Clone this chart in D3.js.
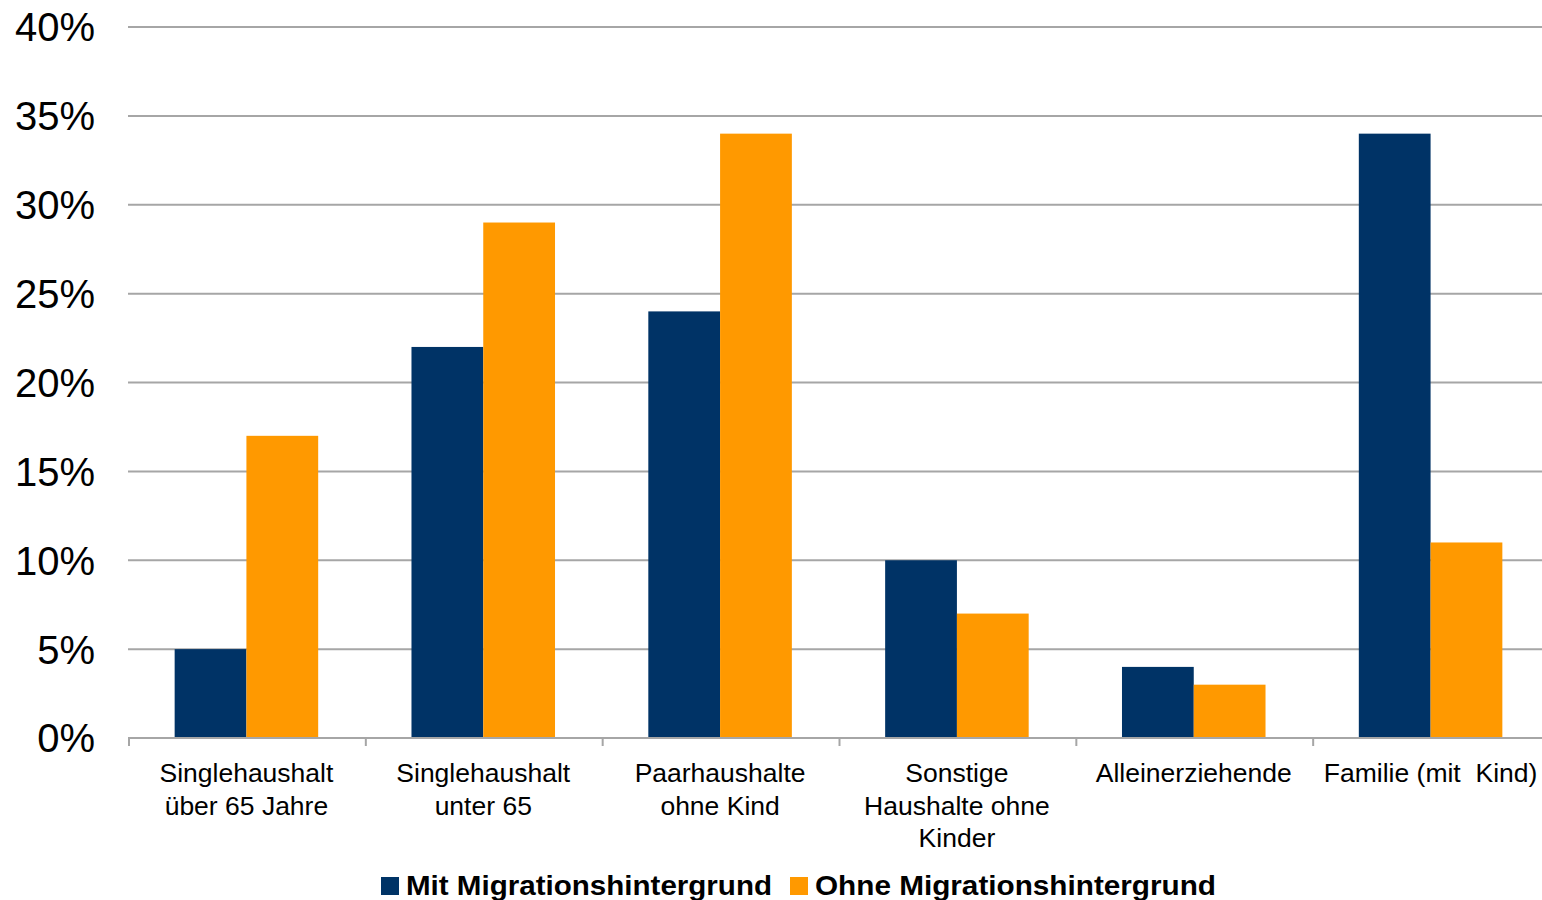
<!DOCTYPE html>
<html>
<head>
<meta charset="utf-8">
<script src="https://cdn.jsdelivr.net/npm/d3@7"></script>
<style>
  body { margin: 0; background: #fff; overflow: hidden; }
  text { font-family: "Liberation Sans", Arial, sans-serif; }
</style>
</head>
<body>
<div id="chart"></div>
<script>
// data
var categories = [
    ["Singlehaushalt", "über 65 Jahre"],
    ["Singlehaushalt", "unter 65"],
    ["Paarhaushalte", "ohne Kind"],
    ["Sonstige", "Haushalte ohne", "Kinder"],
    ["Alleinerziehende"],
    ["Familie (mit  Kind)"]
];
var seriesNames = ["Mit Migrationshintergrund", "Ohne Migrationshintergrund"];
var mitValues = [5, 22, 24, 10, 4, 34];
var ohneValues = [17, 29, 34, 7, 3, 11];
var yTicks = [0, 5, 10, 15, 20, 25, 30, 35, 40];

var colors = ["#003366", "#ff9900"];

var width = 1542, height = 900;
var margin = {top: 27, bottom: 162, left: 128};
// plot area runs a few px past the window on the right
var plotRight = 1549;

var svg = d3.select("#chart").append("svg")
    .attr("width", width)
    .attr("height", height);

var idx = d3.range(categories.length);

var x0 = d3.scaleBand()
    .domain(idx)
    .range([margin.left, plotRight])
    .padding(0);

var x1 = d3.scaleBand()
    .domain([0, 1])
    .range([0, x0.bandwidth()])
    .paddingInner(0)
    .paddingOuter(0.65);

var y = d3.scaleLinear()
    .domain([0, 40])
    .range([height - margin.bottom, margin.top]);

// gridlines
svg.append("g").selectAll("line").data(yTicks)
    .enter()
    .append("line")
    .attr("x1", margin.left)
    .attr("x2", plotRight)
    .attr("y1", function(d){ return y(d); })
    .attr("y2", function(d){ return y(d); })
    .attr("stroke", "#a6a6a6")
    .attr("stroke-width", 2);

// y labels
svg.append("g").selectAll("text").data(yTicks)
    .enter()
    .append("text")
    .attr("x", 95)
    .attr("y", function(d){ return y(d); })
    .attr("dy", "0.36em")
    .attr("text-anchor", "end")
    .attr("font-size", "40px")
    .attr("fill", "#000")
    .text(function(d){ return d + "%"; });

// bars
var table = idx.map(function(i){ return [mitValues[i], ohneValues[i]]; });
var groups = svg.append("g").selectAll("g").data(table)
    .enter()
    .append("g")
    .attr("transform", function(d, i){ return "translate(" + x0(i) + ",0)"; });

groups.selectAll("rect").data(function(d){ return d; })
    .enter()
    .append("rect")
    .attr("x", function(d, j){ return x1(j); })
    .attr("y", function(d){ return y(d); })
    .attr("width", x1.bandwidth())
    .attr("height", function(d){ return y(0) - y(d); })
    .attr("fill", function(d, j){ return colors[j]; });

// x axis line and ticks
var axis = svg.append("g");
axis.append("line")
    .attr("x1", margin.left)
    .attr("x2", plotRight)
    .attr("y1", y(0))
    .attr("y2", y(0))
    .attr("stroke", "#a6a6a6")
    .attr("stroke-width", 2);
var tickXs = idx.map(function(i){ return x0(i); });
axis.selectAll("line.tick").data(tickXs)
    .enter()
    .append("line")
    .attr("class", "tick")
    .attr("x1", function(d){ return d + 1; })
    .attr("x2", function(d){ return d + 1; })
    .attr("y1", y(0))
    .attr("y2", y(0) + 8)
    .attr("stroke", "#a6a6a6")
    .attr("stroke-width", 2);

// category labels
var catLabels = svg.append("g").selectAll("text").data(categories)
    .enter()
    .append("text")
    .attr("text-anchor", "middle")
    .attr("font-size", "26.5px")
    .attr("fill", "#000")
    .style("white-space", "pre")
    .attr("x", function(d, i){ return x0(i) + x0.bandwidth() / 2; });
catLabels.selectAll("tspan").data(function(d){ return d; })
    .enter()
    .append("tspan")
    .attr("x", function(){ return d3.select(this.parentNode).attr("x"); })
    .attr("y", function(d, k){ return 782 + k * 32.5; })
    .text(function(d){ return d; });

// legend
var legendX = [381, 790];
var legendW = [366, 401];
var legend = svg.append("g").selectAll("g").data(seriesNames)
    .enter()
    .append("g")
    .attr("transform", function(d, i){ return "translate(" + legendX[i] + ",0)"; });
legend.append("rect")
    .attr("x", 0)
    .attr("y", 877)
    .attr("width", 18)
    .attr("height", 18)
    .attr("fill", function(d, i){ return colors[i]; });
legend.append("text")
    .attr("x", 25)
    .attr("y", 895)
    .attr("font-size", "27px")
    .attr("font-weight", "bold")
    .attr("fill", "#000")
    .attr("textLength", function(d, i){ return legendW[i]; })
    .attr("lengthAdjust", "spacingAndGlyphs")
    .text(function(d){ return d; });
</script>
</body>
</html>
